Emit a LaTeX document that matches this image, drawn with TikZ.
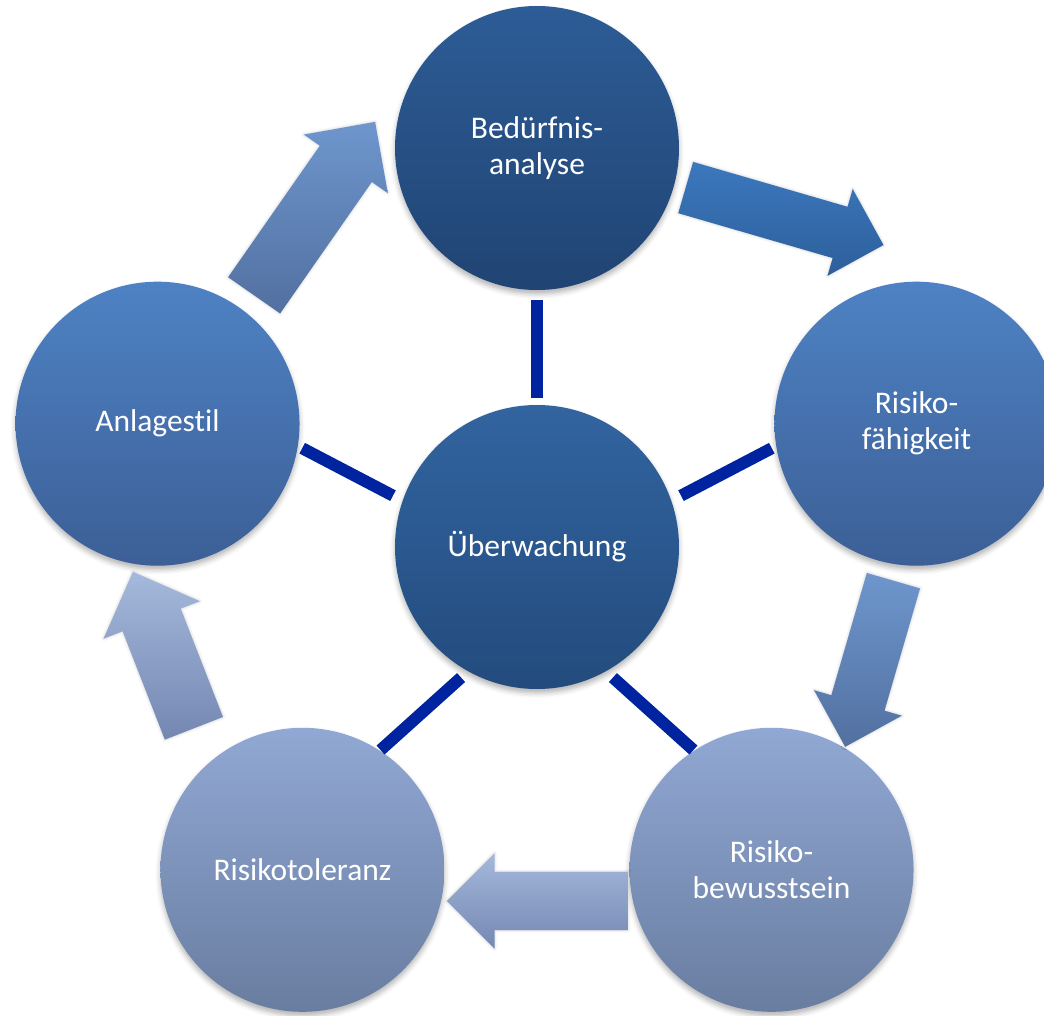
\documentclass[tikz,border=0pt]{standalone}
\usepackage{fontspec}
\setmainfont{Carlito}[Ligatures=NoCommon]
\usetikzlibrary{shapes.arrows,shadows.blur}
\definecolor{spokeblue}{RGB}{0,35,160}
\definecolor{darktop}{RGB}{45,92,150}
\definecolor{darkbot}{RGB}{32,68,115}
\definecolor{midtop}{RGB}{50,100,160}
\definecolor{midbot}{RGB}{35,75,125}
\definecolor{bluetop}{RGB}{78,130,196}
\definecolor{bluebot}{RGB}{60,95,150}
\definecolor{paletop}{RGB}{145,168,212}
\definecolor{palebot}{RGB}{105,125,160}
\definecolor{arrAtop}{RGB}{60,120,190}
\definecolor{arrAbot}{RGB}{45,95,155}
\definecolor{arrBtop}{RGB}{110,150,205}
\definecolor{arrBbot}{RGB}{82,112,160}
\definecolor{arrCtop}{RGB}{165,185,220}
\definecolor{arrCbot}{RGB}{115,135,178}

\begin{document}
\begin{tikzpicture}[x=1pt, y=1pt,
	font=\fontsize{31.5}{36}\selectfont,
	disc/.style 2 args={circle, minimum size=284pt, inner sep=0pt, outer sep=0pt,
		align=center, text=white, top color=#1, bottom color=#2,
		blur shadow={shadow xshift=0pt, shadow yshift=-4pt, shadow blur radius=5pt, shadow opacity=30}},
	blockarrow/.style n args={6}{single arrow, single arrow tip angle=90,
		inner xsep=0pt, minimum width=0pt, anchor=tail, rotate=#1, minimum height=#2,
		inner ysep=#3, single arrow head extend=#4, top color=#5, bottom color=#6,
		blur shadow={shadow xshift=0pt, shadow yshift=0pt, shadow blur radius=3pt, shadow opacity=20}},
	spoke/.style={draw=spokeblue, line width=12pt}]
	\useasboundingbox (-537, -468) rectangle (507, 547);
	\node [disc={midtop}{midbot}] (M) at (0, 0) {Überwachung};
	\node [disc={darktop}{darkbot}] (T) at (90:399) {Bedürfnis-\\analyse};
	\node [disc={bluetop}{bluebot}] (R) at (18:399) {Risiko-\\fähigkeit};
	\node [disc={paletop}{palebot}] (RB) at (-54:399) {Risiko-\\bewusstsein};
	\node [disc={paletop}{palebot}] (LB) at (-126:399) {Risikotoleranz};
	\node [disc={bluetop}{bluebot}] (L) at (162:399) {Anlagestil};
	\draw [spoke, shorten <=7pt, shorten >=10pt] (M.90) -- (T.-90);
	\draw [spoke, shorten <=11pt, shorten >=5pt] (M.19) -- (R.189);
	\draw [spoke, shorten <=9.5pt, shorten >=1pt] (M.-61) -- (RB.123);
	\draw [spoke, shorten <=9.5pt, shorten >=1pt] (M.-119) -- (LB.57);
	\draw [spoke, shorten <=11pt, shorten >=5pt] (M.161) -- (L.-9);
	\node [blockarrow={-16.2}{206pt}{26.5pt}{18.5pt}{arrAtop}{arrAbot}] (TR) at (148.5, 359.5) {};
	\node [blockarrow={-106.2}{173pt}{27.5pt}{18pt}{arrBtop}{arrBbot}] (RRB) at (356.5, -33.5) {};
	\node [blockarrow={180}{181pt}{29pt}{18.5pt}{arrCtop}{arrCbot}] (RBLB) at (91, -354) {};
	\node [blockarrow={111.3}{168pt}{31pt}{20.5pt}{arrCtop}{arrCbot}] (LBL) at (-343, -181.5) {};
	\node [blockarrow={55.1}{211.5pt}{31.5pt}{19.5pt}{arrBtop}{arrBbot}] (LT) at (-283, 251.5) {};
\end{tikzpicture}
\end{document}
